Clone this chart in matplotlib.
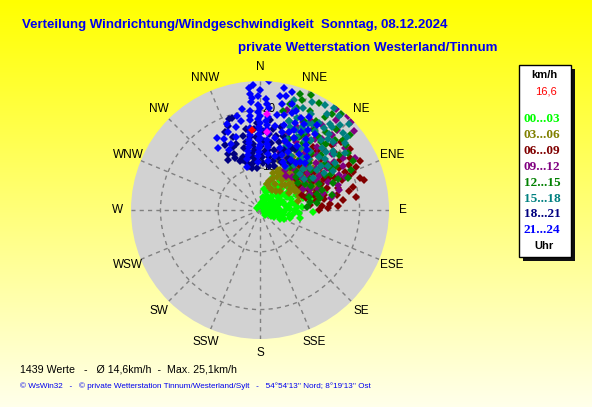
import numpy as np
import matplotlib
matplotlib.use("Agg")
import matplotlib.pyplot as plt
from matplotlib.patches import Rectangle

plt.rcParams["font.family"] = ["Liberation Sans", "DejaVu Sans"]

# ---------------------------------------------------------------------------
# Data: (direction in degrees from north, speed in km/h), one group per 3 h
# ---------------------------------------------------------------------------
pts_0003 = [(60, 4.5), (70, 5.0), (80, 5.5), (90, 5.0), (100, 4.5), (110, 4.0), (120, 3.8),
            (50, 5.5), (40, 6.0), (30, 6.5), (45, 7.0), (55, 7.5), (65, 8.0), (75, 7.0),
            (85, 7.5), (95, 7.0), (105, 6.0), (115, 5.5), (60, 6.5), (70, 8.5), (80, 9.0),
            (92, 11.9), (101, 9.8), (97, 8.5), (102, 6.8), (86, 10.0), (23, 8.0), (36, 7.7),
            (50, 9.0), (60, 10.0), (40, 8.5), (75, 10.5), (65, 11.0), (88, 8.0), (130, 4.0),
            (20, 5.0), (10, 4.0), (350, 3.5), (300, 3.3), (45, 4.2), (80, 3.8), (100, 3.5),
            (55, 9.8), (30, 9.2), (70, 6.2), (90, 6.3), (110, 7.2), (48, 10.8), (62, 12.0),
            (78, 12.2), (85, 4.2), (95, 5.8), (75, 5.2), (65, 4.8), (55, 6.8), (105, 8.2),
            (45, 5.2), (55, 5.0), (65, 6.0), (75, 6.0), (85, 5.8), (95, 6.2), (100, 7.8),
            (90, 8.8), (80, 7.8), (70, 7.0), (60, 7.8), (50, 6.5), (40, 7.2), (35, 5.2),
            (25, 4.5), (110, 5.0), (120, 5.0), (115, 6.5), (105, 5.0), (90, 4.0), (70, 4.0),
            (50, 4.0), (30, 3.8), (60, 3.3), (95, 9.5), (85, 9.2), (78, 8.5), (68, 9.5),
            (58, 8.5), (45, 8.0),
            (10, 6.5), (15, 7.5), (20, 8.2), (25, 7.0), (18, 6.0), (30, 7.8), (35, 8.8),
            (28, 5.5), (12, 5.0), (22, 9.0), (40, 9.8), (45, 10.2), (52, 11.2), (58, 11.5),
            (75, 14.5), (70, 13.0), (80, 12.5)]
pts_0306 = [(24, 6.9), (27, 9.2), (19, 9.5), (66, 12.7), (72, 13.0), (35, 10.5), (40, 12.0),
            (45, 11.0), (50, 13.5), (55, 12.0), (60, 10.5), (48, 9.5), (42, 8.5), (30, 8.0),
            (35, 12.5), (38, 14.0), (45, 15.0), (52, 16.0), (58, 14.5), (62, 13.0), (28, 11.5),
            (32, 13.5), (40, 10.0), (55, 9.0), (65, 11.0), (70, 10.0), (25, 13.0), (20, 12.0),
            (44, 13.2), (50, 11.2), (58, 12.2), (36, 9.2), (46, 7.5), (60, 8.5), (30, 14.8),
            (42, 16.0), (68, 14.0), (22, 10.5), (52, 10.2), (38, 11.6),
            (18, 8.0), (22, 8.5), (26, 10.0), (29, 9.8), (33, 11.2), (37, 13.0), (41, 13.8),
            (44, 11.8), (47, 10.5), (51, 12.5), (54, 13.8), (57, 11.0), (61, 12.0), (64, 13.5),
            (67, 10.2), (73, 11.5), (76, 9.5), (48, 16.8), (34, 15.5), (26, 14.2), (15, 7.5),
            (30, 6.8), (40, 7.0), (56, 10.0), (62, 9.6),
            (45, 11.3), (27, 10.5), (63, 12.4), (50, 12.0), (40, 11.0), (55, 11.5), (35, 9.8),
            (60, 13.2), (48, 13.0), (42, 12.5), (52, 14.5), (65, 14.2), (30, 10.2), (57, 9.5),
            (45, 9.0)]
pts_0609 = [(72, 20.9), (68, 20.1), (76, 19.3), (79, 16.4), (83, 17.2), (87, 16.2), (60, 20.8),
            (62, 18.3), (84, 11.4), (72, 14.9), (65, 16.0), (58, 17.5), (55, 14.0), (62, 13.0),
            (68, 12.0), (75, 12.5), (80, 14.0), (50, 16.5), (45, 14.5), (48, 12.5), (52, 19.0),
            (56, 21.5), (64, 22.0), (70, 17.8), (74, 16.8), (78, 18.5), (66, 18.8), (60, 15.2),
            (54, 12.0), (42, 13.0), (40, 17.0), (46, 18.0), (70, 10.5), (82, 19.5), (58, 10.8),
            (63, 20.0), (50, 21.0), (86, 13.5), (76, 11.0), (67, 14.2),
            (55, 15.5), (58, 19.0), (61, 17.0), (64, 15.0), (67, 16.8), (69, 19.2), (71, 13.2),
            (73, 11.8), (77, 14.2), (81, 12.6), (85, 15.0), (88, 14.5), (53, 13.2), (50, 11.0),
            (46, 11.8), (43, 15.8), (39, 14.0), (36, 12.0), (48, 19.5), (44, 17.0), (90, 13.0),
            (74, 21.5), (66, 21.0)]
pts_0912 = [(46, 24.7), (37, 24.6), (65, 12.3), (78, 13.3), (78, 15.6), (45, 11.7), (15, 20.6),
            (50, 15.5), (55, 17.0), (60, 14.5), (58, 16.5), (52, 18.5), (48, 20.0), (42, 17.5),
            (38, 15.0), (35, 13.0), (40, 12.0), (32, 18.0), (28, 16.0), (25, 14.0), (30, 20.5),
            (44, 22.0), (62, 19.0), (68, 15.5), (70, 13.5), (72, 17.0), (56, 12.5), (64, 11.0),
            (48, 14.0), (36, 21.0), (24, 18.5), (20, 17.0), (54, 21.0), (66, 17.8), (58, 19.8),
            (46, 16.5), (41, 19.0), (75, 14.0), (34, 16.8), (52, 13.2),
            (40, 23.2), (43, 25.0), (50, 24.0), (44, 20.8), (38, 18.3), (33, 19.5), (29, 17.5),
            (26, 19.8), (21, 15.2), (18, 13.5), (27, 12.2), (32, 11.0), (38, 10.2), (44, 10.8),
            (50, 11.8), (54, 14.8), (57, 18.0), (60, 16.8), (63, 13.8), (67, 12.2), (72, 11.8),
            (76, 16.8), (80, 15.2), (69, 18.5), (61, 21.5)]
pts_1215 = [(24, 24.5), (29, 23.9), (50, 21.5), (68, 17.3), (70, 16.2), (79, 13.3), (83, 12.7),
            (21, 23.1), (13, 20.4), (18, 19.0), (35, 22.5), (40, 20.5), (45, 19.0), (55, 19.5),
            (60, 18.0), (62, 15.5), (48, 17.0), (42, 16.0), (36, 17.5), (30, 18.0), (26, 20.0),
            (32, 15.0), (38, 13.5), (52, 14.0), (58, 13.0), (65, 12.5), (72, 14.0), (75, 11.5),
            (44, 12.0), (30, 12.5), (22, 16.0), (50, 23.0), (40, 24.5), (55, 16.5), (66, 20.0),
            (20, 21.5), (34, 19.5), (46, 14.5), (78, 15.5), (62, 21.0),
            (16, 21.8), (19, 24.0), (27, 22.0), (32, 21.0), (37, 23.5), (43, 22.0), (47, 20.5),
            (53, 21.5), (57, 21.0), (59, 17.0), (63, 16.5), (66, 14.0), (70, 19.0), (74, 13.0),
            (81, 11.5), (86, 11.0), (42, 18.5), (38, 19.0), (33, 16.5), (28, 17.0), (24, 14.8),
            (35, 11.8), (48, 11.2), (54, 10.8), (60, 11.8)]
pts_1518 = [(17, 22.7), (32, 24.1), (39, 22.0), (47, 22.3), (51, 19.0), (56, 20.5), (40, 16.2),
            (27, 16.9), (55, 14.8), (22, 20.0), (28, 21.5), (35, 19.5), (42, 20.5), (45, 18.0),
            (48, 16.5), (36, 17.8), (30, 18.5), (24, 18.0), (20, 16.0), (33, 15.5), (38, 14.5),
            (44, 15.0), (52, 17.0), (58, 18.0), (60, 15.5), (26, 23.5), (30, 13.5), (46, 13.0),
            (40, 24.0), (52, 21.5), (18, 19.0), (34, 21.0), (43, 23.0), (50, 14.0), (62, 17.0),
            (25, 14.5), (37, 12.5), (55, 12.0), (29, 19.8), (41, 18.8),
            (19, 21.2), (23, 22.0), (27, 18.8), (31, 20.2), (35, 23.0), (38, 20.8), (41, 21.7),
            (44, 19.8), (47, 20.0), (49, 18.0), (53, 18.8), (57, 16.8), (46, 24.3), (50, 22.5),
            (33, 17.0), (37, 16.0), (42, 14.0), (28, 15.0), (22, 14.8), (31, 11.5), (48, 12.0),
            (54, 15.8), (59, 13.5), (36, 24.5), (20, 18.0)]
pts_1821 = [(-19, 19.4), (-17, 19.5), (-24, 17.5), (-13, 16.0), (-12, 14.8), (-18, 12.4),
            (-19, 11.9), (-9, 11.0), (-4, 10.0), (-11, 10.1), (2, 11.9), (5, 13.1), (9, 14.5),
            (-28, 15.5), (-25, 13.5), (-22, 12.0), (-15, 13.8), (-8, 12.8), (-6, 14.2),
            (-3, 15.5), (0, 12.5), (3, 14.8), (7, 16.0), (10, 12.0), (13, 13.5), (16, 15.0),
            (19, 12.5), (22, 14.0), (25, 16.5), (14, 17.5), (-10, 17.0), (-30, 14.0),
            (-2, 17.8), (6, 18.5), (11, 10.5), (28, 13.0), (18, 10.8), (-14, 10.6), (30, 15.0),
            (-20, 15.0),
            (-20, 16.2), (-23, 14.6), (-26, 12.8), (-16, 11.2), (-12, 12.2), (-7, 11.8),
            (-5, 13.4), (-2, 11.2), (1, 13.8), (4, 11.0), (8, 13.2), (12, 15.8), (15, 11.5),
            (20, 13.2), (24, 11.8), (27, 14.8), (-8, 15.5), (-4, 16.8), (2, 16.5), (-33, 13.0),
            (-21, 18.3), (9, 17.0), (17, 16.2), (32, 12.5)]
pts_2124 = [(-31, 17.3), (-21, 18.8), (-22, 17.4), (-27, 16.5), (-18, 16.0), (-14, 19.5),
            (-5, 23.0), (-5, 21.5), (-6, 20.0), (-6, 18.5), (-7, 17.0), (-8, 15.8), (-9, 14.5),
            (-11, 13.2), (-14, 11.8), (-17, 10.5), (-1, 22.5), (-1, 21.0), (-1, 19.8),
            (-1, 18.5), (-1, 17.2), (-1, 16.0), (-1, 14.8), (-1, 13.5), (-2, 12.2), (-2, 11.0),
            (4, 25.1), (5, 20.5), (5, 19.0), (5, 17.5), (6, 16.2), (6, 15.0), (7, 13.8),
            (8, 12.5), (9, 11.3), (11, 24.3), (15, 24.0), (12, 21.5), (14, 19.8), (18, 20.5),
            (16, 18.0), (20, 17.2), (22, 19.0), (25, 16.5), (28, 18.0), (30, 15.5), (33, 17.5),
            (35, 14.5), (38, 16.0), (40, 13.5), (18, 14.0), (22, 13.0), (26, 12.0), (30, 11.5),
            (12, 15.5), (15, 12.5), (24, 15.0), (36, 19.0), (28, 21.0), (42, 15.0),
            (-5, 24.0), (-4, 22.2), (-6, 19.2), (-7, 16.4), (-9, 15.0), (-10, 13.8), (-12, 12.5),
            (0, 23.6), (0, 20.4), (0, 19.1), (0, 17.8), (0, 16.6), (0, 15.3), (0, 14.1),
            (-1, 12.8), (3, 22.0), (4, 21.2), (4, 18.2), (5, 16.8), (6, 14.3), (10, 22.8),
            (13, 23.0), (17, 22.0), (20, 21.0), (24, 20.2), (27, 19.5), (31, 19.0), (34, 20.5),
            (20, 15.5), (23, 17.8), (26, 14.0), (32, 13.0), (35, 16.5), (38, 13.0), (44, 14.0),
            (16, 16.8), (10, 17.5), (10, 19.5), (-24, 15.3), (-27, 14.5), (-34, 15.8),
            (-16, 17.8), (-12, 18.5), (-10, 20.5), (-3, 24.5)]
pts_extra = [(4, 19.5), (5, 16.4)]
pts_current = [(-5.6, 16.6)]

groups = ["00...03", "03...06", "06...09", "09...12", "12...15", "15...18", "18...21", "21...24"]
group_pts = [pts_0003, pts_0306, pts_0609, pts_0912, pts_1215, pts_1518, pts_1821, pts_2124]
group_colors = ["#00ff00", "#808000", "#800000", "#800080", "#008000", "#008080", "#000080", "#0000ff"]

compass = ["N", "NNE", "NE", "ENE", "E", "ESE", "SE", "SSE",
           "S", "SSW", "SW", "WSW", "W", "WNW", "NW", "NNW"]
r_min, r_max = 2.76, 25.1
ring_ticks = [10, 20]

title = "Verteilung Windrichtung/Windgeschwindigkeit  Sonntag, 08.12.2024"
subtitle = "private Wetterstation Westerland/Tinnum"
stats = "1439 Werte   -   \u00d8 14,6km/h  -  Max. 25,1km/h"
footer = "\u00a9 WsWin32   -   \u00a9 private Wetterstation Tinnum/Westerland/Sylt   -   54\u00b054'13'' Nord; 8\u00b019'13'' Ost"
current_value = "16,6"

# ---------------------------------------------------------------------------
W, H = 592, 407
fig = plt.figure(figsize=(W / 100, H / 100), dpi=100)

# background in pixel coordinates
bg = fig.add_axes([0, 0, 1, 1])
bg.set_xlim(0, W)
bg.set_ylim(H, 0)
bg.axis("off")
g = np.linspace(0, 1, 256)
grad = np.stack([np.ones_like(g), np.ones_like(g), g * 0.92], axis=1)[:, None, :]
bg.imshow(grad, extent=[0, W, H, 0], aspect="auto", zorder=0)

bg.text(22, 25, title, fontsize=9.55, fontweight="bold", color="#0000ee", va="center")
bg.text(497, 48, subtitle, fontsize=9.6, fontweight="bold", color="#0000ee", va="center", ha="right")
bg.text(20, 370, stats, fontsize=7.65, color="black", va="center")
bg.text(20, 386, footer, fontsize=5.85, color="#0000ee", va="center")

# legend box with shadow
bg.add_patch(Rectangle((523, 69), 52, 192, facecolor="#101010", edgecolor="none", zorder=2))
bg.add_patch(Rectangle((519, 65), 52, 192, facecolor="white", edgecolor="black", lw=1, zorder=3))
bg.text(544, 75, "km/h", fontsize=8, fontweight="bold", ha="center", va="center", zorder=4)
bg.text(557, 91, current_value, fontsize=8, color="red", ha="right", va="center", zorder=4)
for k, (lab, col) in enumerate(zip(groups, group_colors)):
    bg.text(542, 119 + k * 15.9, lab, fontsize=9.5, fontweight="bold", color=col,
            family="Liberation Serif", ha="center", va="center", zorder=4)
bg.text(544, 246, "Uhr", fontsize=8, fontweight="bold", ha="center", va="center", zorder=4)

# polar wind distribution
cx, cy, rad = 260, 210, 129
ax = fig.add_axes([(cx - rad) / W, (H - cy - rad) / H, 2 * rad / W, 2 * rad / H],
                  projection="polar")
ax.set_theta_zero_location("N")
ax.set_theta_direction(-1)
ax.set_facecolor("#d2d2d2")
ax.spines["polar"].set_visible(False)
ax.set_ylim(r_min, r_max)
ax.set_rticks(ring_ticks)
ax.set_yticklabels([])
ax.set_xticks(np.radians(np.arange(16) * 22.5))
ax.set_xticklabels([])
ax.grid(color="#808080", ls=(0, (3, 3)), lw=1)

for t in ring_ticks:
    ax.annotate(str(t), xy=(0, t), xytext=(9, 1), textcoords="offset pixels",
                ha="center", va="center", fontsize=8.5, zorder=2)

# groups drawn in time order, later hours on top
for pts, col in zip(group_pts, group_colors):
    d, s = zip(*pts)
    ax.plot(np.radians(d), s, "D", ms=4.0, mew=0, color=col, zorder=3)
d, s = zip(*pts_extra)
ax.plot(np.radians(d), s, "D", ms=4.0, mew=0, color="#ff00ff", zorder=4)
d, s = zip(*pts_current)
ax.plot(np.radians(d), s, "D", ms=4.0, mew=0, color="red", zorder=4)

for k, name in enumerate(compass):
    ax.text(np.radians(k * 22.5), 27.5, name, fontsize=8.5, ha="center", va="center",
            clip_on=False)

fig.savefig("out.png", dpi=100)
